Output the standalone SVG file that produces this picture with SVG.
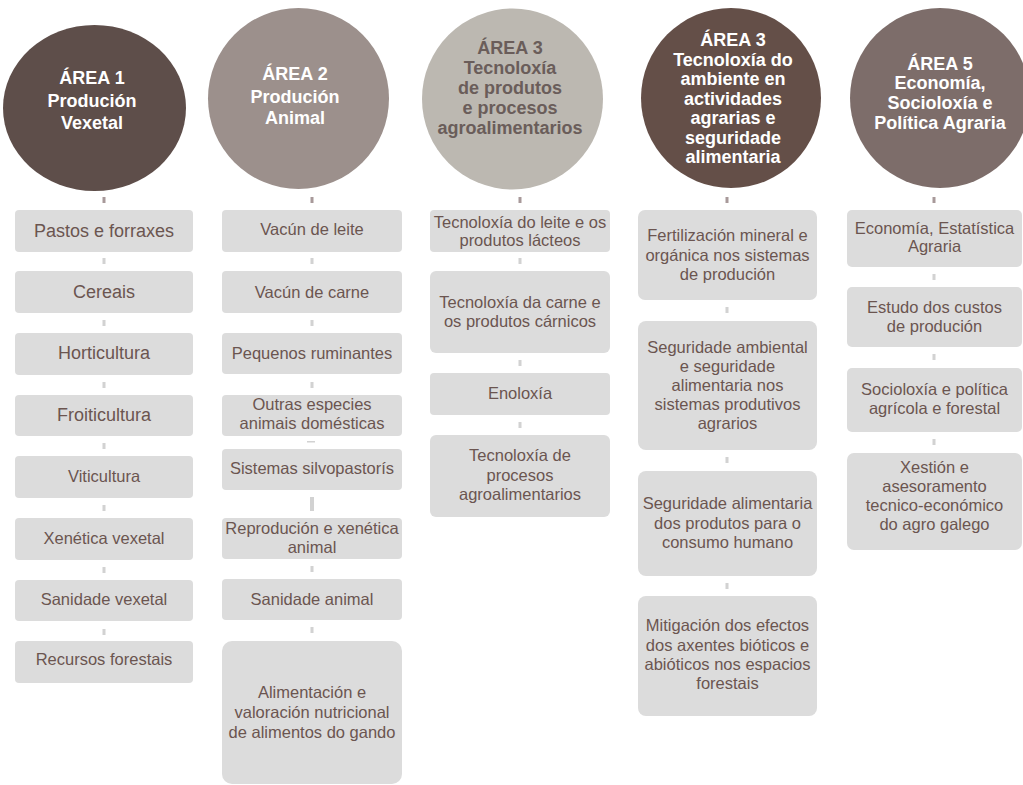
<svg xmlns="http://www.w3.org/2000/svg" width="1023" height="785" viewBox="0 0 1023 785">
<style>
text{font-family:"Liberation Sans",Arial,Helvetica,sans-serif;text-anchor:middle}
.h{font-weight:bold;font-size:18px;fill:#ffffff}
.h3{font-weight:bold;font-size:18px;fill:#6a5d5a}
.b{fill:#dcdcdc}
.t{font-size:16.5px;fill:#6b5550}
.tl{font-size:18px;fill:#6b5550}
.c{fill:#d2d2d2}
.d{fill:#a8999a}
</style>
<rect width="1023" height="785" fill="#ffffff"/>
<g id="connectors">
<rect class="d" x="102.5" y="197" width="3" height="6"/>
<rect class="c" x="102.5" y="258" width="3" height="6"/>
<rect class="c" x="102.5" y="320" width="3" height="6"/>
<rect class="c" x="102.5" y="382" width="3" height="6"/>
<rect class="c" x="102.5" y="443" width="3" height="6"/>
<rect class="c" x="102.5" y="505" width="3" height="6"/>
<rect class="c" x="102.5" y="567" width="3" height="6"/>
<rect class="c" x="102.5" y="629" width="3" height="6"/>
<rect class="d" x="310.5" y="197" width="3" height="6"/>
<rect class="c" x="310.5" y="258" width="3" height="6"/>
<rect class="c" x="310.5" y="320" width="3" height="6"/>
<rect class="c" x="310.5" y="382" width="3" height="6"/>
<rect class="c" x="307" y="441" width="8" height="1.5"/>
<rect class="c" x="310" y="497" width="4" height="14"/>
<rect class="c" x="310.5" y="566" width="3" height="6"/>
<rect class="c" x="310.5" y="627" width="3" height="6"/>
<rect class="d" x="518.5" y="197" width="3" height="6"/>
<rect class="c" x="518.5" y="258" width="3" height="6"/>
<rect class="c" x="518.5" y="360" width="3" height="6"/>
<rect class="c" x="518.5" y="422" width="3" height="6"/>
<rect class="d" x="725.5" y="197" width="3" height="6"/>
<rect class="c" x="725.5" y="307" width="3" height="6"/>
<rect class="c" x="725.5" y="457" width="3" height="6"/>
<rect class="c" x="725.5" y="583" width="3" height="6"/>
<rect class="d" x="932.5" y="197" width="3" height="6"/>
<rect class="c" x="932.5" y="274" width="3" height="6"/>
<rect class="c" x="932.5" y="354" width="3" height="6"/>
<rect class="c" x="932.5" y="439" width="3" height="6"/>
</g>
<g id="area1">
<ellipse cx="94.5" cy="108" rx="91.5" ry="83" fill="#5e4e4a"/>
<text class="h" x="92" y="83.5">ÁREA 1</text>
<text class="h" x="92" y="106.5">Produción</text>
<text class="h" x="92" y="129">Vexetal</text>
</g>
<g id="area2">
<circle cx="298.5" cy="98.5" r="90.5" fill="#9c908c"/>
<text class="h" x="295" y="79.5">ÁREA 2</text>
<text class="h" x="295" y="102.5">Produción</text>
<text class="h" x="295" y="124">Animal</text>
</g>
<g id="area3a">
<circle cx="512.5" cy="99" r="90.5" fill="#bcb8b1"/>
<text class="h3" x="510" y="53.5">ÁREA 3</text>
<text class="h3" x="510" y="73.5">Tecnoloxía</text>
<text class="h3" x="510" y="93.5">de produtos</text>
<text class="h3" x="510" y="113.5">e procesos</text>
<text class="h3" x="510" y="133.5">agroalimentarios</text>
</g>
<g id="area3b">
<circle cx="731" cy="98" r="90" fill="#644f48"/>
<text class="h" x="733" y="46">ÁREA 3</text>
<text class="h" x="733" y="65.5">Tecnoloxía do</text>
<text class="h" x="733" y="85">ambiente en</text>
<text class="h" x="733" y="104.5">actividades</text>
<text class="h" x="733" y="124">agrarias e</text>
<text class="h" x="733" y="143.5">seguridade</text>
<text class="h" x="733" y="163">alimentaria</text>
</g>
<g id="area5">
<circle cx="940" cy="98" r="90" fill="#7d6d6a"/>
<text class="h" x="940" y="69.5">ÁREA 5</text>
<text class="h" x="940" y="88.5">Economía,</text>
<text class="h" x="940" y="108.5">Socioloxía e</text>
<text class="h" x="940" y="128.5">Política Agraria</text>
</g>
<g id="c1-1"><rect class="b" x="15" y="210" width="178" height="42" rx="4"/><text class="tl" x="104" y="236.5">Pastos e forraxes</text></g>
<g id="c1-2"><rect class="b" x="15" y="271" width="178" height="42" rx="4"/><text class="tl" x="104" y="297.5">Cereais</text></g>
<g id="c1-3"><rect class="b" x="15" y="333" width="178" height="42" rx="4"/><text class="tl" x="104" y="359">Horticultura</text></g>
<g id="c1-4"><rect class="b" x="15" y="395" width="178" height="41" rx="4"/><text class="tl" x="104" y="420.5">Froiticultura</text></g>
<g id="c1-5"><rect class="b" x="15" y="456" width="178" height="42" rx="4"/><text class="t" x="104" y="482">Viticultura</text></g>
<g id="c1-6"><rect class="b" x="15" y="518" width="178" height="42" rx="4"/><text class="t" x="104" y="543.5">Xenética vexetal</text></g>
<g id="c1-7"><rect class="b" x="15" y="580" width="178" height="41" rx="4"/><text class="t" x="104" y="605">Sanidade vexetal</text></g>
<g id="c1-8"><rect class="b" x="15" y="641" width="178" height="42" rx="4"/><text class="t" x="104" y="665">Recursos forestais</text></g>
<g id="c2-1"><rect class="b" x="222" y="210" width="180" height="42" rx="4"/><text class="t" x="312" y="235">Vacún de leite</text></g>
<g id="c2-2"><rect class="b" x="222" y="271" width="180" height="42" rx="4"/><text class="t" x="312" y="297.5">Vacún de carne</text></g>
<g id="c2-3"><rect class="b" x="222" y="333" width="180" height="41" rx="4"/><text class="t" x="312" y="358.5">Pequenos ruminantes</text></g>
<g id="c2-4"><rect class="b" x="222" y="395" width="180" height="41" rx="4"/><text class="t" x="312" y="410">Outras especies</text><text class="t" x="312" y="429">animais domésticas</text></g>
<g id="c2-5"><rect class="b" x="222" y="449" width="180" height="41" rx="4"/><text class="t" x="312" y="474">Sistemas silvopastorís</text></g>
<g id="c2-6"><rect class="b" x="222" y="518" width="180" height="41" rx="4"/><text class="t" x="312" y="533.5">Reprodución e xenética</text><text class="t" x="312" y="553">animal</text></g>
<g id="c2-7"><rect class="b" x="222" y="579" width="180" height="41" rx="4"/><text class="t" x="312" y="605">Sanidade animal</text></g>
<g id="c2-8"><rect class="b" x="222" y="641" width="180" height="143" rx="10"/><text class="t" x="312" y="698">Alimentación e</text><text class="t" x="312" y="718">valoración nutricional</text><text class="t" x="312" y="737.5">de alimentos do gando</text></g>
<g id="c3-1"><rect class="b" x="430" y="210" width="180" height="42" rx="4"/><text class="t" x="520" y="227.5">Tecnoloxía do leite e os</text><text class="t" x="520" y="246">produtos lácteos</text></g>
<g id="c3-2"><rect class="b" x="430" y="271" width="180" height="82" rx="6"/><text class="t" x="520" y="307.5">Tecnoloxía da carne e</text><text class="t" x="520" y="327">os produtos cárnicos</text></g>
<g id="c3-3"><rect class="b" x="430" y="373" width="180" height="42" rx="4"/><text class="t" x="520" y="399">Enoloxía</text></g>
<g id="c3-4"><rect class="b" x="430" y="435" width="180" height="82" rx="6"/><text class="t" x="520" y="461">Tecnoloxía de</text><text class="t" x="520" y="481">procesos</text><text class="t" x="520" y="500">agroalimentarios</text></g>
<g id="c4-1"><rect class="b" x="638" y="210" width="179" height="90" rx="7"/><text class="t" x="727.5" y="241">Fertilización mineral e</text><text class="t" x="727.5" y="260.5">orgánica nos sistemas</text><text class="t" x="727.5" y="280">de produción</text></g>
<g id="c4-2"><rect class="b" x="638" y="321" width="179" height="129" rx="8"/><text class="t" x="727.5" y="352.5">Seguridade ambiental</text><text class="t" x="727.5" y="372">e seguridade</text><text class="t" x="727.5" y="391">alimentaria nos</text><text class="t" x="727.5" y="410">sistemas produtivos</text><text class="t" x="727.5" y="429">agrarios</text></g>
<g id="c4-3"><rect class="b" x="638" y="471" width="179" height="105" rx="8"/><text class="t" x="727.5" y="509">Seguridade alimentaria</text><text class="t" x="727.5" y="528.5">dos produtos para o</text><text class="t" x="727.5" y="548">consumo humano</text></g>
<g id="c4-4"><rect class="b" x="638" y="596" width="179" height="120" rx="8"/><text class="t" x="727.5" y="631">Mitigación dos efectos</text><text class="t" x="727.5" y="650.5">dos axentes bióticos e</text><text class="t" x="727.5" y="670">abióticos nos espacios</text><text class="t" x="727.5" y="689">forestais</text></g>
<g id="c5-1"><rect class="b" x="847" y="210" width="175" height="57" rx="5"/><text class="t" x="934.5" y="233.5">Economía, Estatística</text><text class="t" x="934.5" y="252">Agraria</text></g>
<g id="c5-2"><rect class="b" x="847" y="287" width="175" height="60" rx="5"/><text class="t" x="934.5" y="312.5">Estudo dos custos</text><text class="t" x="934.5" y="332">de produción</text></g>
<g id="c5-3"><rect class="b" x="847" y="368" width="175" height="64" rx="5"/><text class="t" x="934.5" y="395">Socioloxía e política</text><text class="t" x="934.5" y="414">agrícola e forestal</text></g>
<g id="c5-4"><rect class="b" x="847" y="453" width="175" height="97" rx="7"/><text class="t" x="934.5" y="472.5">Xestión e</text><text class="t" x="934.5" y="492">asesoramento</text><text class="t" x="934.5" y="511">tecnico-económico</text><text class="t" x="934.5" y="530">do agro galego</text></g>
</svg>
